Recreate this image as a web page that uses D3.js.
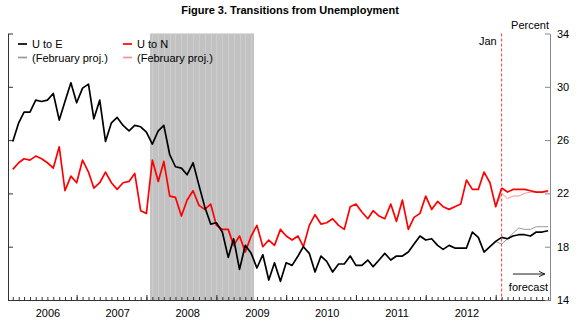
<!DOCTYPE html>
<html>
    <head>
        <title>Transitions from Unemployment</title>
        <script src="https://d3js.org/d3.v7.min.js"></script>
        <style>
            body { margin: 0; background: white; }
            text { font-family: Arial, 'Liberation Sans', Helvetica, sans-serif; }
            .title-text { font-size: 11px; font-weight: bold; }
            .label { font-size: 11px; }
        </style>
    </head>
    <body>
        <svg id='canvas' width=580 height=324></svg>
        <script>
            // monthly data, Jan 2006 .. Jan 2013
            const firstMonth = new Date(2006, 0, 1)
            const lastMonth = new Date(2013, 0, 1)
            const uToE = [
                25.9, 27.3, 28.1, 28.1, 29.0, 28.9, 29.0, 29.5, 27.5, 28.9,
                30.3, 28.8, 29.9, 30.2, 27.6, 29.0, 25.9, 27.3, 27.7, 27.1,
                26.7, 27.1, 27.0, 26.6, 25.7, 26.7, 27.1, 24.9, 24.0, 23.9,
                23.4, 24.3, 22.6, 21.0, 19.7, 19.8, 19.1, 17.2, 18.6, 16.3,
                18.1, 17.5, 16.4, 17.4, 15.5, 16.8, 15.4, 16.8, 16.6, 17.3,
                18.0, 17.5, 16.1, 17.3, 16.9, 16.1, 16.7, 16.7, 17.3, 16.6,
                16.6, 17.0, 16.5, 17.0, 17.5, 17.0, 17.3, 17.3, 17.6, 18.2,
                18.8, 18.5, 18.6, 18.1, 17.8, 18.1, 17.9, 17.9, 17.9, 19.1,
                18.7, 17.6, 18.0, 18.4, 18.7
            ]
            const uToN = [
                23.8, 24.3, 24.6, 24.5, 24.8, 24.6, 24.3, 23.9, 25.5, 22.2,
                23.3, 22.8, 24.5, 23.6, 22.4, 22.8, 23.6, 22.8, 22.3, 22.8,
                22.9, 23.5, 20.7, 20.5, 24.5, 22.9, 24.4, 21.8, 21.7, 20.3,
                21.5, 22.2, 21.1, 20.8, 21.2, 19.6, 19.3, 19.3, 18.1, 18.8,
                17.6, 18.8, 19.6, 18.0, 18.5, 18.1, 19.3, 18.8, 18.5, 18.8,
                18.0, 19.6, 20.4, 19.7, 19.8, 20.1, 19.6, 19.3, 21.0, 21.2,
                20.6, 20.1, 20.7, 20.3, 20.1, 21.2, 19.9, 21.5, 19.3, 20.2,
                20.5, 21.8, 20.8, 21.4, 21.0, 20.8, 21.0, 21.2, 23.0, 22.3,
                22.3, 23.6, 22.8, 21.0, 22.4
            ]

            // current forecast, Jan 2013 .. Sep 2013
            const forecastStart = new Date(2013, 0, 1)
            const forecastE = [18.7, 18.6, 18.8, 18.9, 18.9, 18.8, 19.1, 19.1, 19.2]
            const forecastN = [22.4, 22.1, 22.3, 22.3, 22.3, 22.2, 22.1, 22.1, 22.2]

            // February projection, Dec 2012 .. Sep 2013
            const febStart = new Date(2012, 11, 1)
            const febE = [18.4, 18.2, 18.6, 19.0, 19.4, 19.3, 19.3, 19.5, 19.5, 19.5]
            const febN = [21.0, 22.0, 21.6, 21.8, 21.8, 22.0, 22.1, 22.1, 22.1, 22.1]

            const recession = [new Date(2007, 11, 20), new Date(2009, 5, 16)]
            const yTicks = [14, 18, 22, 26, 30, 34]
            const years = [2006, 2007, 2008, 2009, 2010, 2011, 2012]

            // colors
            const black = '#000000'
            const red = '#ff0000'
            const gray = '#999999'
            const lightRed = '#ff9090'
            const shade = '#c2c2c2'

            const svg = d3.select('#canvas')
            const plotLeft = 8, plotRight = 550, plotTop = 33.5, plotBottom = 300

            const xScale = d3.scaleTime()
                .domain([new Date(2005, 11, 7), new Date(2013, 8, 11)])
                .range([plotLeft, plotRight])
            const yScale = d3.scaleLinear().domain([14, 34]).range([plotBottom, plotTop])

            const toSeries = (start, vals) => vals.map((v, i) => ({ date: d3.timeMonth.offset(start, i), v }))

            // recession shading with faint monthly seams like the original
            svg.append('rect')
                .attr('x', xScale(recession[0]))
                .attr('width', xScale(recession[1]) - xScale(recession[0]))
                .attr('y', plotTop)
                .attr('height', plotBottom - plotTop)
                .attr('fill', shade)
            svg.append('g').selectAll('line')
                .data(d3.timeMonth.range(d3.timeMonth.ceil(recession[0]), recession[1]))
                .enter()
                .append('line')
                    .attr('x1', d => Math.round(xScale(d)) + 0.5)
                    .attr('x2', d => Math.round(xScale(d)) + 0.5)
                    .attr('y1', plotTop).attr('y2', plotBottom)
                    .attr('stroke', '#cdcdcd')
                    .attr('stroke-width', 1)

            // axes
            const minor = d3.axisBottom(xScale).ticks(d3.timeMonth.every(1)).tickSize(-3).tickSizeOuter(0).tickFormat('')
            const major = d3.axisBottom(xScale)
                .tickValues(years.map(y => new Date(y, 11, 1)))
                .tickSize(-5).tickSizeOuter(0).tickFormat('')
            const labels = d3.axisBottom(xScale)
                .tickValues(years.map(y => new Date(y, 6, 1)))
                .tickSize(0).tickPadding(9).tickFormat(d3.timeFormat('%Y'))

            const gx = svg.append('g').attr('transform', `translate(0, ${plotBottom})`)
            gx.append('g').call(minor)
            gx.append('g').call(major)
            gx.append('g').call(labels).select('.domain').remove()
            gx.selectAll('.domain, line').attr('stroke', '#333')

            const gl = svg.append('g').attr('transform', `translate(${plotLeft}, 0)`)
                .call(d3.axisRight(yScale).tickValues(yTicks).tickSize(5).tickSizeOuter(0).tickFormat(''))
            gl.selectAll('.domain, line').attr('stroke', '#333')

            const gr = svg.append('g').attr('transform', `translate(${plotRight}, 0)`)
                .call(d3.axisRight(yScale).tickValues(yTicks).tickSize(-5).tickSizeOuter(0).tickPadding(7))
            gr.selectAll('.domain, line').attr('stroke', '#888')

            svg.selectAll('.tick text').attr('font-size', 11).attr('fill', 'black')
                .attr('font-family', "Arial, 'Liberation Sans', sans-serif")

            // lines
            const line = d3.line().x(d => xScale(d.date)).y(d => yScale(d.v))
            const drawLine = (data, color, w) => svg.append('path')
                .datum(data)
                .attr('d', line)
                .attr('fill', 'none')
                .attr('stroke', color)
                .attr('stroke-width', w)
                .attr('stroke-linejoin', 'round')

            drawLine(toSeries(febStart, febE), gray, 1)
            drawLine(toSeries(febStart, febN), lightRed, 1)
            drawLine(toSeries(firstMonth, uToN), red, 1.7)
            drawLine(toSeries(forecastStart, forecastN), red, 1.7)
            drawLine(toSeries(firstMonth, uToE), black, 1.7)
            drawLine(toSeries(forecastStart, forecastE), black, 1.7)

            // forecast marker
            svg.append('line')
                .attr('x1', xScale(lastMonth)).attr('x2', xScale(lastMonth))
                .attr('y1', plotTop).attr('y2', plotBottom)
                .attr('stroke', red).attr('stroke-width', 0.8)
                .attr('stroke-dasharray', '3,2')

            svg.append('defs').append('marker')
                .attr('id', 'arrow')
                .attr('viewBox', '0 0 10 10')
                .attr('refX', 9).attr('refY', 5)
                .attr('markerWidth', 7).attr('markerHeight', 7)
                .attr('markerUnits', 'userSpaceOnUse')
                .attr('orient', 'auto')
                .append('path')
                    .attr('d', 'M0,1 L9,5 L0,9')
                    .attr('fill', 'none')
                    .attr('stroke', black)
                    .attr('stroke-width', 1.2)

            svg.append('line')
                .attr('x1', xScale(new Date(2013, 2, 1))).attr('x2', xScale(new Date(2013, 7, 15)))
                .attr('y1', yScale(15.95)).attr('y2', yScale(15.95))
                .attr('stroke', black).attr('stroke-width', 0.9)
                .attr('marker-end', 'url(#arrow)')

            svg.append('text').text('forecast')
                .attr('x', plotRight - 2).attr('y', yScale(14.7))
                .attr('text-anchor', 'end')
                .classed('label', true)

            svg.append('text').text('Jan')
                .attr('x', xScale(lastMonth) - 5).attr('y', 45)
                .attr('text-anchor', 'end')
                .classed('label', true)

            svg.append('text').text('Percent')
                .attr('x', plotRight - 1).attr('y', 29)
                .attr('text-anchor', 'end')
                .classed('label', true)

            svg.append('text').text('Figure 3. Transitions from Unemployment')
                .attr('x', 290).attr('y', 14)
                .attr('text-anchor', 'middle')
                .classed('title-text', true)

            // legend
            const legend = [
                { name: 'U to E', color: black, col: 0, row: 0 },
                { name: '(February proj.)', color: gray, col: 0, row: 1 },
                { name: 'U to N', color: red, col: 1, row: 0 },
                { name: '(February proj.)', color: lightRed, col: 1, row: 1 }
            ]
            const lg = svg.append('g').selectAll('g')
                .data(legend)
                .enter()
                .append('g')
                    .attr('transform', d => `translate(${18 + d.col * 105}, ${44 + d.row * 13.5})`)
            lg.append('line')
                .attr('x1', 0).attr('x2', 9)
                .attr('stroke', d => d.color)
                .attr('stroke-width', 1.7)
            lg.append('text').text(d => d.name)
                .attr('x', 14).attr('y', 4)
                .classed('label', true)
        </script>
    </body>
</html>
